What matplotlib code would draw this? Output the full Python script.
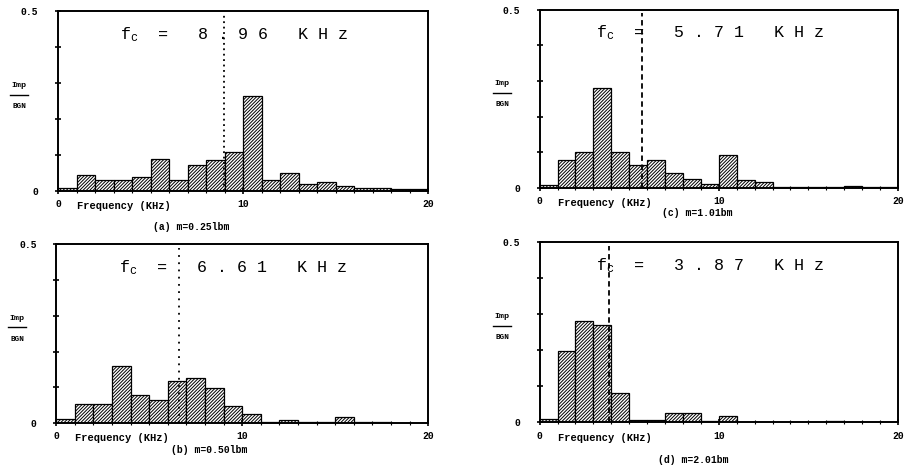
import matplotlib.pyplot as plt
import matplotlib.transforms as mtransforms

plt.rcParams["hatch.linewidth"] = 0.7
plt.rcParams["mathtext.fontset"] = "custom"

MONO = "Liberation Mono"

# 1 kHz wide bins, left edges
freq_bins = [0, 1, 2, 3, 4, 5, 6, 7, 8, 9, 10, 11, 12, 13, 14, 15, 16, 17, 18, 19]

# Imp/BGN per bin
imp_a = [0.009, 0.046, 0.031, 0.031, 0.038, 0.089, 0.030, 0.073, 0.086, 0.109,
         0.265, 0.031, 0.051, 0.020, 0.025, 0.015, 0.010, 0.008, 0.006, 0.005]
imp_b = [0.012, 0.054, 0.054, 0.159, 0.080, 0.065, 0.117, 0.126, 0.097, 0.048,
         0.026, 0.003, 0.009, 0.002, 0.004, 0.017, 0.004, 0.002, 0.001, 0.001]
imp_c = [0.009, 0.077, 0.100, 0.280, 0.100, 0.065, 0.078, 0.042, 0.025, 0.012,
         0.093, 0.021, 0.016, 0.003, 0.003, 0.003, 0.003, 0.005, 0.002, 0.002]
imp_d = [0.009, 0.197, 0.281, 0.270, 0.081, 0.006, 0.007, 0.026, 0.026, 0.003,
         0.016, 0.002, 0.002, 0.002, 0.002, 0.002, 0.003, 0.002, 0.002, 0.002]

fc_values = [8.96, 6.61, 5.71, 3.87]
fc_labels = ["8 . 9 6", "6 . 6 1", "5 . 7 1", "3 . 8 7"]
captions = ["(a) m=0.25lbm", "(b) m=0.50lbm", "(c) m=1.01bm", "(d) m=2.01bm"]
series = [imp_a, imp_b, imp_c, imp_d]

# layout: axes rect, fc line style, caption (x, y) in axes fraction
rects = [[0.064, 0.589, 0.408, 0.387],
         [0.062, 0.090, 0.410, 0.385],
         [0.595, 0.596, 0.395, 0.383],
         [0.595, 0.092, 0.395, 0.387]]
line_styles = [(0, (1, 2)), (0, (1, 3)), (0, (3, 2)), (0, (3, 2))]
caption_pos = [(0.36, -0.2), (0.41, -0.15), (0.44, -0.14), (0.43, -0.21)]

fig = plt.figure(figsize=(9.07, 4.65), dpi=100)

for i in range(4):
    ax = fig.add_axes(rects[i])
    ax.bar(freq_bins, series[i], width=1, align="edge", color="white",
           edgecolor="black", hatch="//////////", linewidth=0.9)
    ax.plot([fc_values[i], fc_values[i]], [0, 0.49], color="black",
            linestyle=line_styles[i], linewidth=1.3)

    ax.set_xlim(0, 20)
    ax.set_ylim(0, 0.5)
    ax.set_xticks([0, 10, 20])
    ax.set_xticklabels(["0", "10", "20"], fontfamily=MONO, fontweight="bold", fontsize=7)
    ax.set_xticks(freq_bins, minor=True)
    ax.set_yticks([0, 0.1, 0.2, 0.3, 0.4, 0.5])
    ax.set_yticklabels(["0", "", "", "", "", "0.5"], fontfamily=MONO,
                       fontweight="bold", fontsize=7)
    ax.tick_params(axis="y", direction="inout", length=4, width=1.2, pad=12)
    ax.tick_params(axis="x", which="major", direction="inout", length=4, width=1.2, pad=4)
    ax.tick_params(axis="x", which="minor", direction="inout", length=2.5, width=0.8)
    for sp in ax.spines.values():
        sp.set_linewidth(1.4)

    ax.text(9.5, 0.435,
            r"f$\mathregular{_c}$  =   " + fc_labels[i] + "   K H z",
            fontfamily=MONO, fontsize=12, ha="center", va="center")

    # Imp / BGN fraction label
    ax.text(-0.105, 0.585, "Imp", transform=ax.transAxes, fontfamily=MONO,
            fontweight="bold", fontsize=6, ha="center", va="center")
    ax.plot([-0.13, -0.08], [0.535, 0.535], transform=ax.transAxes,
            color="black", linewidth=1.0, clip_on=False)
    ax.text(-0.105, 0.47, "BGN", transform=ax.transAxes, fontfamily=MONO,
            fontweight="bold", fontsize=5.5, ha="center", va="center")

    trans = mtransforms.blended_transform_factory(ax.transData, ax.transAxes)
    ax.text(1.0, -0.085, "Frequency (KHz)", transform=trans, fontfamily=MONO,
            fontweight="bold", fontsize=7.5, ha="left", va="center")
    ax.text(caption_pos[i][0], caption_pos[i][1], captions[i],
            transform=ax.transAxes, fontfamily=MONO, fontweight="bold",
            fontsize=7, ha="center", va="center")

fig.savefig("out.png", dpi=100)
